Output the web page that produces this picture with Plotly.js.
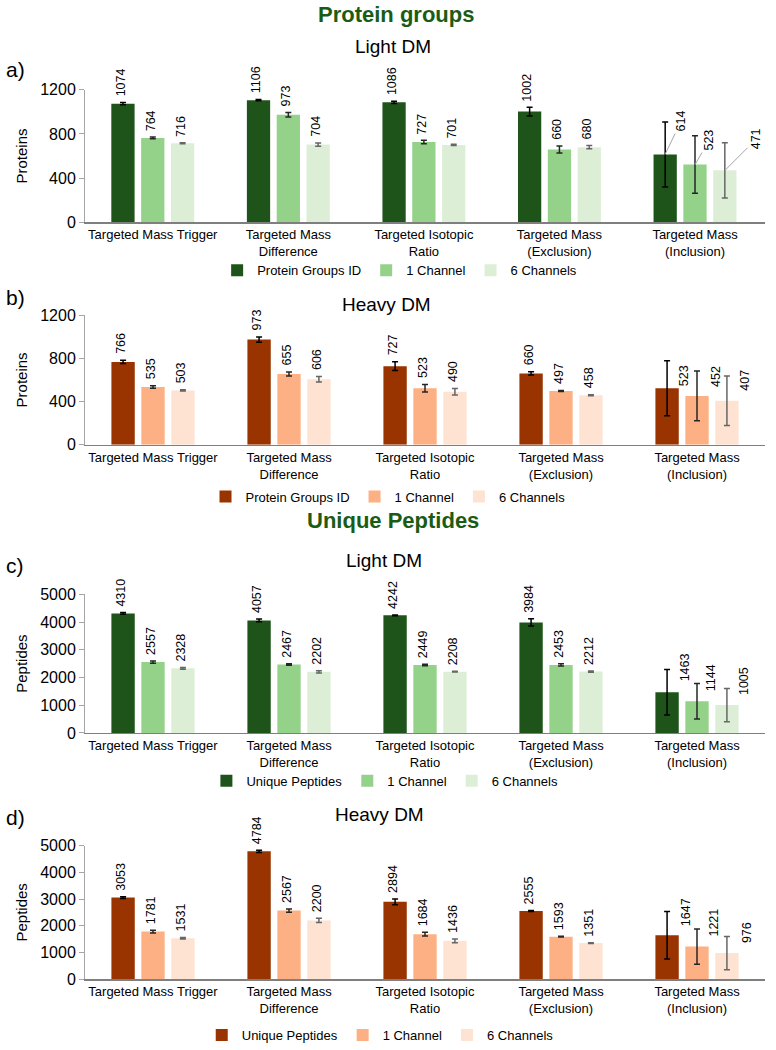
<!DOCTYPE html>
<html>
<head>
<meta charset="utf-8">
<script src="https://cdn.plot.ly/plotly-3.0.1.min.js"></script>
<style>body{margin:0;} #plot{width:776px;height:1050px;}</style>
</head>
<body>
<div id="plot"></div>
<script>
var categories = ['Targeted Mass Trigger', 'Targeted Mass<br>Difference', 'Targeted Isotopic<br>Ratio',
    'Targeted Mass<br>(Exclusion)', 'Targeted Mass<br>(Inclusion)'];

// a) protein groups, light DM
var protLightID = [1074, 1106, 1086, 1002, 614];
var protLightIDErr = [10, 6, 10, 40, 293];
var protLight1 = [764, 973, 727, 660, 523];
var protLight1Err = [8, 20, 15, 32, 260];
var protLight6 = [716, 704, 701, 680, 471];
var protLight6Err = [5, 15, 6, 15, 250];

// b) protein groups, heavy DM
var protHeavyID = [766, 973, 727, 660, 523];
var protHeavyIDErr = [15, 25, 40, 15, 255];
var protHeavy1 = [535, 655, 523, 497, 452];
var protHeavy1Err = [12, 18, 35, 5, 230];
var protHeavy6 = [503, 606, 490, 458, 407];
var protHeavy6Err = [5, 25, 30, 5, 230];

// c) unique peptides, light DM
var pepLightID = [4310, 4057, 4242, 3984, 1463];
var pepLightIDErr = [30, 50, 15, 130, 820];
var pepLight1 = [2557, 2467, 2449, 2453, 1144];
var pepLight1Err = [40, 25, 25, 40, 640];
var pepLight6 = [2328, 2202, 2208, 2212, 1005];
var pepLight6Err = [30, 40, 15, 25, 600];

// d) unique peptides, heavy DM
var pepHeavyID = [3053, 4784, 2894, 2555, 1647];
var pepHeavyIDErr = [30, 40, 110, 20, 890];
var pepHeavy1 = [1781, 2567, 1684, 1593, 1221];
var pepHeavy1Err = [50, 60, 70, 15, 660];
var pepHeavy6 = [1531, 2200, 1436, 1351, 976];
var pepHeavy6Err = [30, 80, 70, 15, 620];

var FONT = 'Liberation Sans, Arial, sans-serif';
var greens = ['#1e5419', '#94d28a', '#dcefd6'];
var browns = ['#993300', '#fdb083', '#fee2d2'];
var errColors = ['#000000', '#262626', '#666666'];

function py(px) { return 1 - px / 1050; }

var panels = [
    {names: ['Protein Groups ID', '1 Channel', '6 Channels'], colors: greens,
     ys: [protLightID, protLight1, protLight6], errs: [protLightIDErr, protLight1Err, protLight6Err],
     top: 90, bottom: 223, range: [0, 1200], dtick: 400, ytitle: 'Proteins',
     legend: {x: 0.515, y: 271}, labelOff: [[16, -33], [14, -24], [31, -31]], leader: '#a6a6a6'},
    {names: ['Protein Groups ID', '1 Channel', '6 Channels'], colors: browns,
     ys: [protHeavyID, protHeavy1, protHeavy6], errs: [protHeavyIDErr, protHeavy1Err, protHeavy6Err],
     top: 316, bottom: 446, range: [0, 1200], dtick: 400, ytitle: 'Proteins',
     legend: {x: 0.5, y: 498}, labelOff: [[17, -12], [19, -19], [18, -20]], leader: 'rgba(0,0,0,0)'},
    {names: ['Unique Peptides', '1 Channel', '6 Channels'], colors: greens,
     ys: [pepLightID, pepLight1, pepLight6], errs: [pepLightIDErr, pepLight1Err, pepLight6Err],
     top: 596, bottom: 735, range: [0, 5000], dtick: 1000, ytitle: 'Peptides',
     legend: {x: 0.496, y: 783}, labelOff: [[18, -25], [14, -23], [17, -24]], leader: 'rgba(0,0,0,0)'},
    {names: ['Unique Peptides', '1 Channel', '6 Channels'], colors: browns,
     ys: [pepHeavyID, pepHeavy1, pepHeavy6], errs: [pepHeavyIDErr, pepHeavy1Err, pepHeavy6Err],
     top: 848, bottom: 982, range: [0, 5000], dtick: 1000, ytitle: 'Peptides',
     legend: {x: 0.49, y: 1038}, labelOff: [[19, -23], [17, -24], [20, -20]], leader: 'rgba(0,0,0,0)'}
];

var data = [];
var annotations = [];
var layout = {
    width: 776, height: 1050,
    margin: {l: 0, r: 0, t: 0, b: 0},
    paper_bgcolor: 'white', plot_bgcolor: 'white',
    font: {family: FONT, color: '#000'},
    barmode: 'group', bargap: 0.34, bargroupgap: 0.22,
    showlegend: true
};

var labelFont = {size: 12.5, color: '#000'};

panels.forEach(function (p, k) {
    var n = k == 0 ? '' : String(k + 1);
    var legendId = 'legend' + n;
    for (var j = 0; j < 3; j++) {
        data.push({
            type: 'bar', name: p.names[j], x: categories, y: p.ys[j],
            xaxis: 'x' + n, yaxis: 'y' + n, legend: legendId,
            marker: {color: p.colors[j]},
            error_y: {type: 'data', array: p.errs[j], visible: true, color: errColors[j], thickness: 1.5, width: 3},
            cliponaxis: false, hoverinfo: 'y'
        });
        // value labels sit just above the error bar
        for (var i = 0; i < 4; i++) {
            annotations.push({
                x: categories[i], y: p.ys[j][i] + p.errs[j][i], xref: 'x' + n, yref: 'y' + n,
                xshift: (j - 1) * 30 - 2, yshift: 4, yanchor: 'bottom', xanchor: 'center',
                text: String(p.ys[j][i]), textangle: -90, font: labelFont, showarrow: false
            });
        }
        // inclusion labels sit beside the bars in the original
        annotations.push({
            x: categories[4], y: p.ys[j][4], xref: 'x' + n, yref: 'y' + n,
            xshift: (j - 1) * 30, text: String(p.ys[j][4]), textangle: -90, font: labelFont,
            showarrow: true, arrowhead: 0, arrowwidth: 1, arrowcolor: p.leader, standoff: 0,
            ax: p.labelOff[j][0], ay: p.labelOff[j][1]
        });
    }
    layout['xaxis' + n] = {
        domain: [85 / 776, 765 / 776], anchor: 'y' + n,
        showline: true, linecolor: '#7f7f7f', linewidth: 1.5,
        ticks: '', tickfont: {size: 13}, showgrid: false, fixedrange: true
    };
    layout['yaxis' + n] = {
        domain: [py(p.bottom), py(p.top)], anchor: 'x' + n,
        range: p.range, dtick: p.dtick, showgrid: false, zeroline: false,
        showline: true, linecolor: '#a6a6a6', linewidth: 1,
        ticks: 'outside', ticklen: 5, tickcolor: '#a6a6a6',
        tickfont: {size: 16}, fixedrange: true,
        title: {text: p.ytitle, font: {size: 15}, standoff: 8}
    };
    layout[legendId] = {
        orientation: 'h', x: p.legend.x, xanchor: 'center',
        y: py(p.legend.y), yanchor: 'middle',
        font: {size: 13}, itemwidth: 30, bgcolor: 'rgba(0,0,0,0)'
    };
});

// section and panel titles
var titleBits = [
    {text: '<b>Protein groups</b>', x: 396, y: 15, size: 22, color: '#1a5c14'},
    {text: 'Light DM', x: 393, y: 47, size: 19, color: '#000'},
    {text: 'Heavy DM', x: 386, y: 305, size: 19, color: '#000'},
    {text: '<b>Unique Peptides</b>', x: 393, y: 522, size: 22, color: '#1a5c14'},
    {text: 'Light DM', x: 384, y: 562, size: 19, color: '#000'},
    {text: 'Heavy DM', x: 379, y: 817, size: 19, color: '#000'}
];
titleBits.forEach(function (t) {
    annotations.push({
        text: t.text, xref: 'paper', yref: 'paper', x: t.x / 776, y: py(t.y),
        xanchor: 'center', yanchor: 'middle', showarrow: false,
        font: {size: t.size, color: t.color}
    });
});
[['a)', 70], ['b)', 298], ['c)', 567], ['d)', 820]].forEach(function (l) {
    annotations.push({
        text: l[0], xref: 'paper', yref: 'paper', x: 4 / 776, y: py(l[1]),
        xanchor: 'left', yanchor: 'middle', showarrow: false, font: {size: 21}
    });
});

layout.annotations = annotations;

Plotly.newPlot('plot', data, layout, {displayModeBar: false, staticPlot: true});
</script>
</body>
</html>
